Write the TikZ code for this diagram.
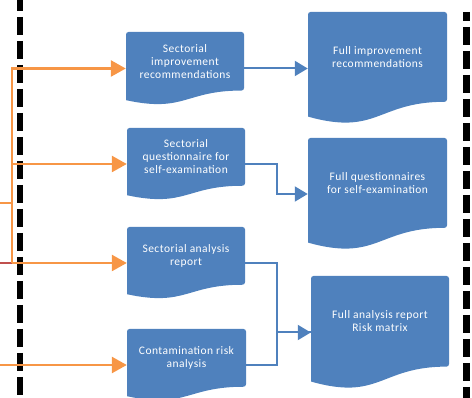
\documentclass[tikz,border=0pt]{standalone}
\usepackage{fontspec}
\setmainfont{Carlito}
\newfontfamily\boxfont[LetterSpace=4]{Carlito}
\usetikzlibrary{arrows.meta,calc}
\definecolor{docblue}{HTML}{4F81BD}
\definecolor{oorange}{HTML}{F79646}
\definecolor{rred}{HTML}{C0504D}
\tikzset{
  boxtext/.style={text=white, align=center, inner sep=0pt, font=\boxfont\fontsize{11.5}{13}\selectfont},
  boxframe/.style={inner sep=0pt, draw=none},
  oline/.style={draw=oorange, line width=2.6pt},
  otip/.style={-{Triangle[length=15pt,width=16pt]}},
  bline/.style={draw=docblue, line width=2pt},
  btip/.style={-{Triangle[length=13pt,width=15pt]}},
  sepline/.style={draw=black, line width=6pt},
}
\newcommand{\docshape}[6]{%
  \fill[docblue, rounded corners=2.5pt] (#2,{#3+0.934*#5}) -- (#2,#3) -- ({#2+#4},#3) -- ({#2+#4},{#3+0.802*#5}) [sharp corners] .. controls ({#2+0.5*#4},{#3+0.802*#5}) and ({#2+0.5*#4},{#3+1.108*#5}) .. (#2,{#3+0.934*#5}) -- cycle;
  \node[boxframe, minimum width=#4pt, minimum height=#5pt] (#1) at ({#2+0.5*#4},{#3+0.5*#5}) {};
  \node[boxtext] (#1t) at ({#2+0.5*#4},{#3+0.401*#5}) {#6};
}
\begin{document}
\begin{tikzpicture}[x=1pt,y=-1pt]
\useasboundingbox (0,0) rectangle (472,398);
% separators
\coordinate (sl1) at (20,0);
\coordinate (sl2) at (20,398);
\coordinate (sr1) at (466.5,12);
\coordinate (sr2) at (466.5,398);
\draw[sepline, dash pattern=on 18pt off 6pt, dash phase=7pt] (sl1) -- (sl2);
\draw[sepline, line width=7pt, dash pattern=on 18pt off 6pt, dash phase=9pt] (sr1) -- (sr2);
% boxes
\docshape{b1}{126}{32}{118}{73}{Sectorial\\improvement\\recommendations}
\docshape{b2}{127}{128}{118}{72}{Sectorial\\questionnaire for\\self-examination}
\docshape{b3}{127}{227}{118}{72}{Sectorial analysis\\report}
\docshape{b4}{127}{329}{119}{72}{Contamination risk\\analysis}
\docshape{b5}{308}{12}{139}{112}{Full improvement\\recommendations}
\docshape{b6}{308}{138}{139}{112}{Full questionnaires\\for self-examination}
\docshape{b7}{311}{276}{138}{113}{Full analysis report\\Risk matrix}
% orange inputs
\coordinate (L) at (0,0);
\coordinate (jx) at (12,0);
\coordinate (oin) at (0,203);
\draw[draw=rred, line width=2.6pt] (L |- b3.west) -- (jx |- b3.west);
\draw[oline, otip] (jx |- b3.west) -- (jx |- b1.west) -- (b1.west);
\draw[oline, otip] (jx |- b2.west) -- (b2.west);
\draw[oline, otip] (jx |- b3.west) -- (b3.west);
\draw[oline] (oin) -- (oin -| jx);
\draw[oline, otip] (L |- b4.west) -- (b4.west);
% blue connectors
\draw[bline, btip] (b1.east) -- (b1.east -| b5.west);
\draw[bline, btip] (b2.east) -- ++(32,0) |- (b6.west);
\draw[bline, btip] (b3.east) -- ++(32,0) |- (b7.west);
\draw[bline] (b4.east) -- ++(31,0) |- (b7.west);
\end{tikzpicture}
\end{document}
